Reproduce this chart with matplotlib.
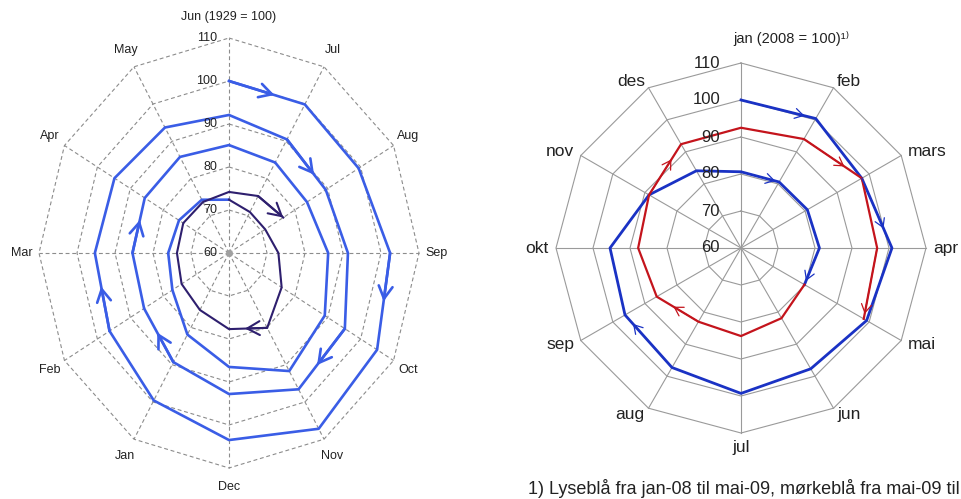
import numpy as np
import matplotlib
matplotlib.use("Agg")
import matplotlib.pyplot as plt

plt.rcParams["font.family"] = ["Liberation Sans", "DejaVu Sans"]

# --- left panel: monthly index, Jun 1929 = 100, clockwise from the top ---
LEFT_MONTHS = ["Jun", "Jul", "Aug", "Sep", "Oct", "Nov",
               "Dec", "Jan", "Feb", "Mar", "Apr", "May"]
LEFT_TICKS = [60, 70, 80, 90, 100, 110]
LEFT_RINGS = [70, 80, 90, 100, 110]

# Jun 1929 .. Jun 1932
LIGHT_1929_1932 = [
    100.0, 99.9, 99.4, 102.4, 105.0, 107.2, 103.5, 99.6, 96.3, 95.3, 94.8, 93.7,
    92.1, 90.5, 89.4, 91.3, 95.2, 96.6, 92.8, 89.3, 85.8, 85.4, 85.6, 85.8,
    85.1, 84.3, 83.7, 86.1, 89.1, 91.7, 86.5, 81.9, 77.2, 76.0, 75.2, 74.3,
    72.4,
]
# Jun 1932 .. Aug 1933
DARK_1932_1933 = [72.4, 71.0, 71.0, 73.0, 76.0, 80.1, 77.7, 75.3,
                  74.4, 73.7, 73.9, 73.7, 74.2, 75.3, 76.5]

# --- right panel: jan 2008 = 100, clockwise from the top ---
RIGHT_MONTHS = ["jan", "feb", "mars", "apr", "mai", "jun",
                "jul", "aug", "sep", "okt", "nov", "des"]
RIGHT_TICKS = [60, 70, 80, 90, 100, 110]
RIGHT_RINGS = [70, 80, 90, 100, 110]

# jan-08 .. mai-09 (starts at jan)
BLUE_2008_2009 = [100.0, 100.4, 97.7, 100.8, 99.2, 97.7, 99.3, 97.3, 96.2,
                  95.4, 88.7, 84.1, 80.6, 80.6, 80.7, 81.2, 79.8]
# mai-09 .. mai-10 (starts at mai)
RED_2009_2010 = [79.8, 81.9, 83.8, 83.0, 86.3, 87.8, 88.7, 92.4, 92.5,
                 94.0, 97.7, 96.8, 98.3]
RED_START = RIGHT_MONTHS.index("mai")

# (segment index, position along segment) for the direction arrows
LIGHT_ARROWS = [(0, 0.6), (3, 0.5), (8, 0.57), (13, 0.7), (16, 0.6), (19, 0.55), (21, 0.6)]
DARK_ARROWS = [(5, 0.58), (13, 1.0)]
BLUE_ARROWS = [(0, 0.85), (2, 0.72), (7, 0.83), (12, 0.9), (15, 0.9)]
RED_ARROWS = [(3, 0.6), (6, 0.7), (9, 0.7), (11, 0.93)]

LIGHT = "#3a5de6"
DARK = "#2e1f6e"
BLUE = "#1a32c4"
RED = "#c4141c"

fig = plt.figure(figsize=(9.61, 4.99), dpi=100)


def angles(n, start=0):
    return np.deg2rad((np.arange(n) + start) * 30.0)


def radar(rect):
    ax = fig.add_axes(rect, projection="polar")
    ax.set_theta_zero_location("N")
    ax.set_theta_direction(-1)
    ax.set_ylim(60, 110)
    ax.set_aspect("auto")
    ax.axis("off")
    return ax


def draw_grid(ax, rings, color, ls, lw):
    th = angles(13)
    for r in rings:
        ax.plot(th, [r] * 13, color=color, ls=ls, lw=lw, clip_on=False, zorder=1)
    for t in angles(12):
        ax.plot([t, t], [60, 110], color=color, ls=ls, lw=lw, clip_on=False, zorder=1)


def add_arrow(ax, vals, start, i, frac, color, lw, scale, head):
    th = angles(len(vals), start)
    p0 = ax.transData.transform((th[i], vals[i]))
    p1 = ax.transData.transform((th[i + 1], vals[i + 1]))
    tip = ax.transData.inverted().transform(p0 + frac * (p1 - p0))
    ax.annotate("", xy=tip, xytext=(th[i], vals[i]),
                arrowprops=dict(arrowstyle=head, color=color, lw=lw,
                                mutation_scale=scale, shrinkA=0, shrinkB=0),
                annotation_clip=False, zorder=4)


# ---------------- left chart ----------------
axl = radar([39 / 961, 31 / 499, 380 / 961, 430 / 499])
draw_grid(axl, LEFT_RINGS, "#8c8c8c", (0, (3.5, 2.5)), 0.8)
axl.plot([0], [60], "o", color="#a0a0a0", ms=4, clip_on=False, zorder=2)

axl.plot(angles(len(LIGHT_1929_1932)), LIGHT_1929_1932, color=LIGHT, lw=1.9,
         clip_on=False, zorder=3)
axl.plot(angles(len(DARK_1932_1933)), DARK_1932_1933, color=DARK, lw=1.5,
         clip_on=False, zorder=3)
for i, f in LIGHT_ARROWS:
    add_arrow(axl, LIGHT_1929_1932, 0, i, f, LIGHT, 1.9, 20, "->,head_length=0.45,head_width=0.25")
for i, f in DARK_ARROWS:
    add_arrow(axl, DARK_1932_1933, 0, i, f, DARK, 1.5, 20, "->,head_length=0.45,head_width=0.25")

for t in LEFT_TICKS:
    axl.annotate(str(t), xy=(0, t), xytext=(-12, 0), textcoords="offset pixels",
                 ha="right", va="center", fontsize=9, color="#222222",
                 annotation_clip=False)
for k, (t, m) in enumerate(zip(angles(12), LEFT_MONTHS)):
    label = m + " (1929 = 100)" if k == 0 else m
    r = 114.9 if k == 0 else 114.5
    axl.text(t, r, label, ha="center", va="center", fontsize=9, color="#222222")

# ---------------- right chart ----------------
axr = radar([556 / 961, 66 / 499, 370 / 961, 370 / 499])
draw_grid(axr, RIGHT_RINGS, "#9a9a9a", "-", 0.8)

axr.plot(angles(len(BLUE_2008_2009)), BLUE_2008_2009, color=BLUE, lw=2.0,
         clip_on=False, zorder=3)
axr.plot(angles(len(RED_2009_2010), RED_START), RED_2009_2010, color=RED, lw=1.6,
         clip_on=False, zorder=3)
for i, f in BLUE_ARROWS:
    add_arrow(axr, BLUE_2008_2009, 0, i, f, BLUE, 0.9, 12, "->,head_length=0.5,head_width=0.3")
for i, f in RED_ARROWS:
    add_arrow(axr, RED_2009_2010, RED_START, i, f, RED, 0.9, 12, "->,head_length=0.5,head_width=0.3")

for t in RIGHT_TICKS:
    axr.annotate(str(t), xy=(0, t), xytext=(-21, 0), textcoords="offset pixels",
                 ha="right", va="center", fontsize=12, color="#222222",
                 annotation_clip=False)
for k, (t, m) in enumerate(zip(angles(12), RIGHT_MONTHS)):
    if k == 0:
        axr.annotate("jan (2008 = 100)¹⁾", xy=(0, 110), xytext=(50, 25),
                     textcoords="offset pixels", ha="center", va="center",
                     fontsize=10.5, color="#222222", annotation_clip=False)
        continue
    s = np.sin(t)
    ha = "left" if s > 0.1 else ("right" if s < -0.1 else "center")
    va = "top" if k == 6 else "center"
    axr.text(t, 112, m, ha=ha, va=va, fontsize=12.5, color="#222222")

fig.text(528 / 961, 1 - 488 / 499,
         "1) Lyseblå fra jan-08 til mai-09, mørkeblå fra mai-09 til mai-10",
         ha="left", va="center", fontsize=13, color="#222222")

fig.savefig("out.png", dpi=100, facecolor="white")
